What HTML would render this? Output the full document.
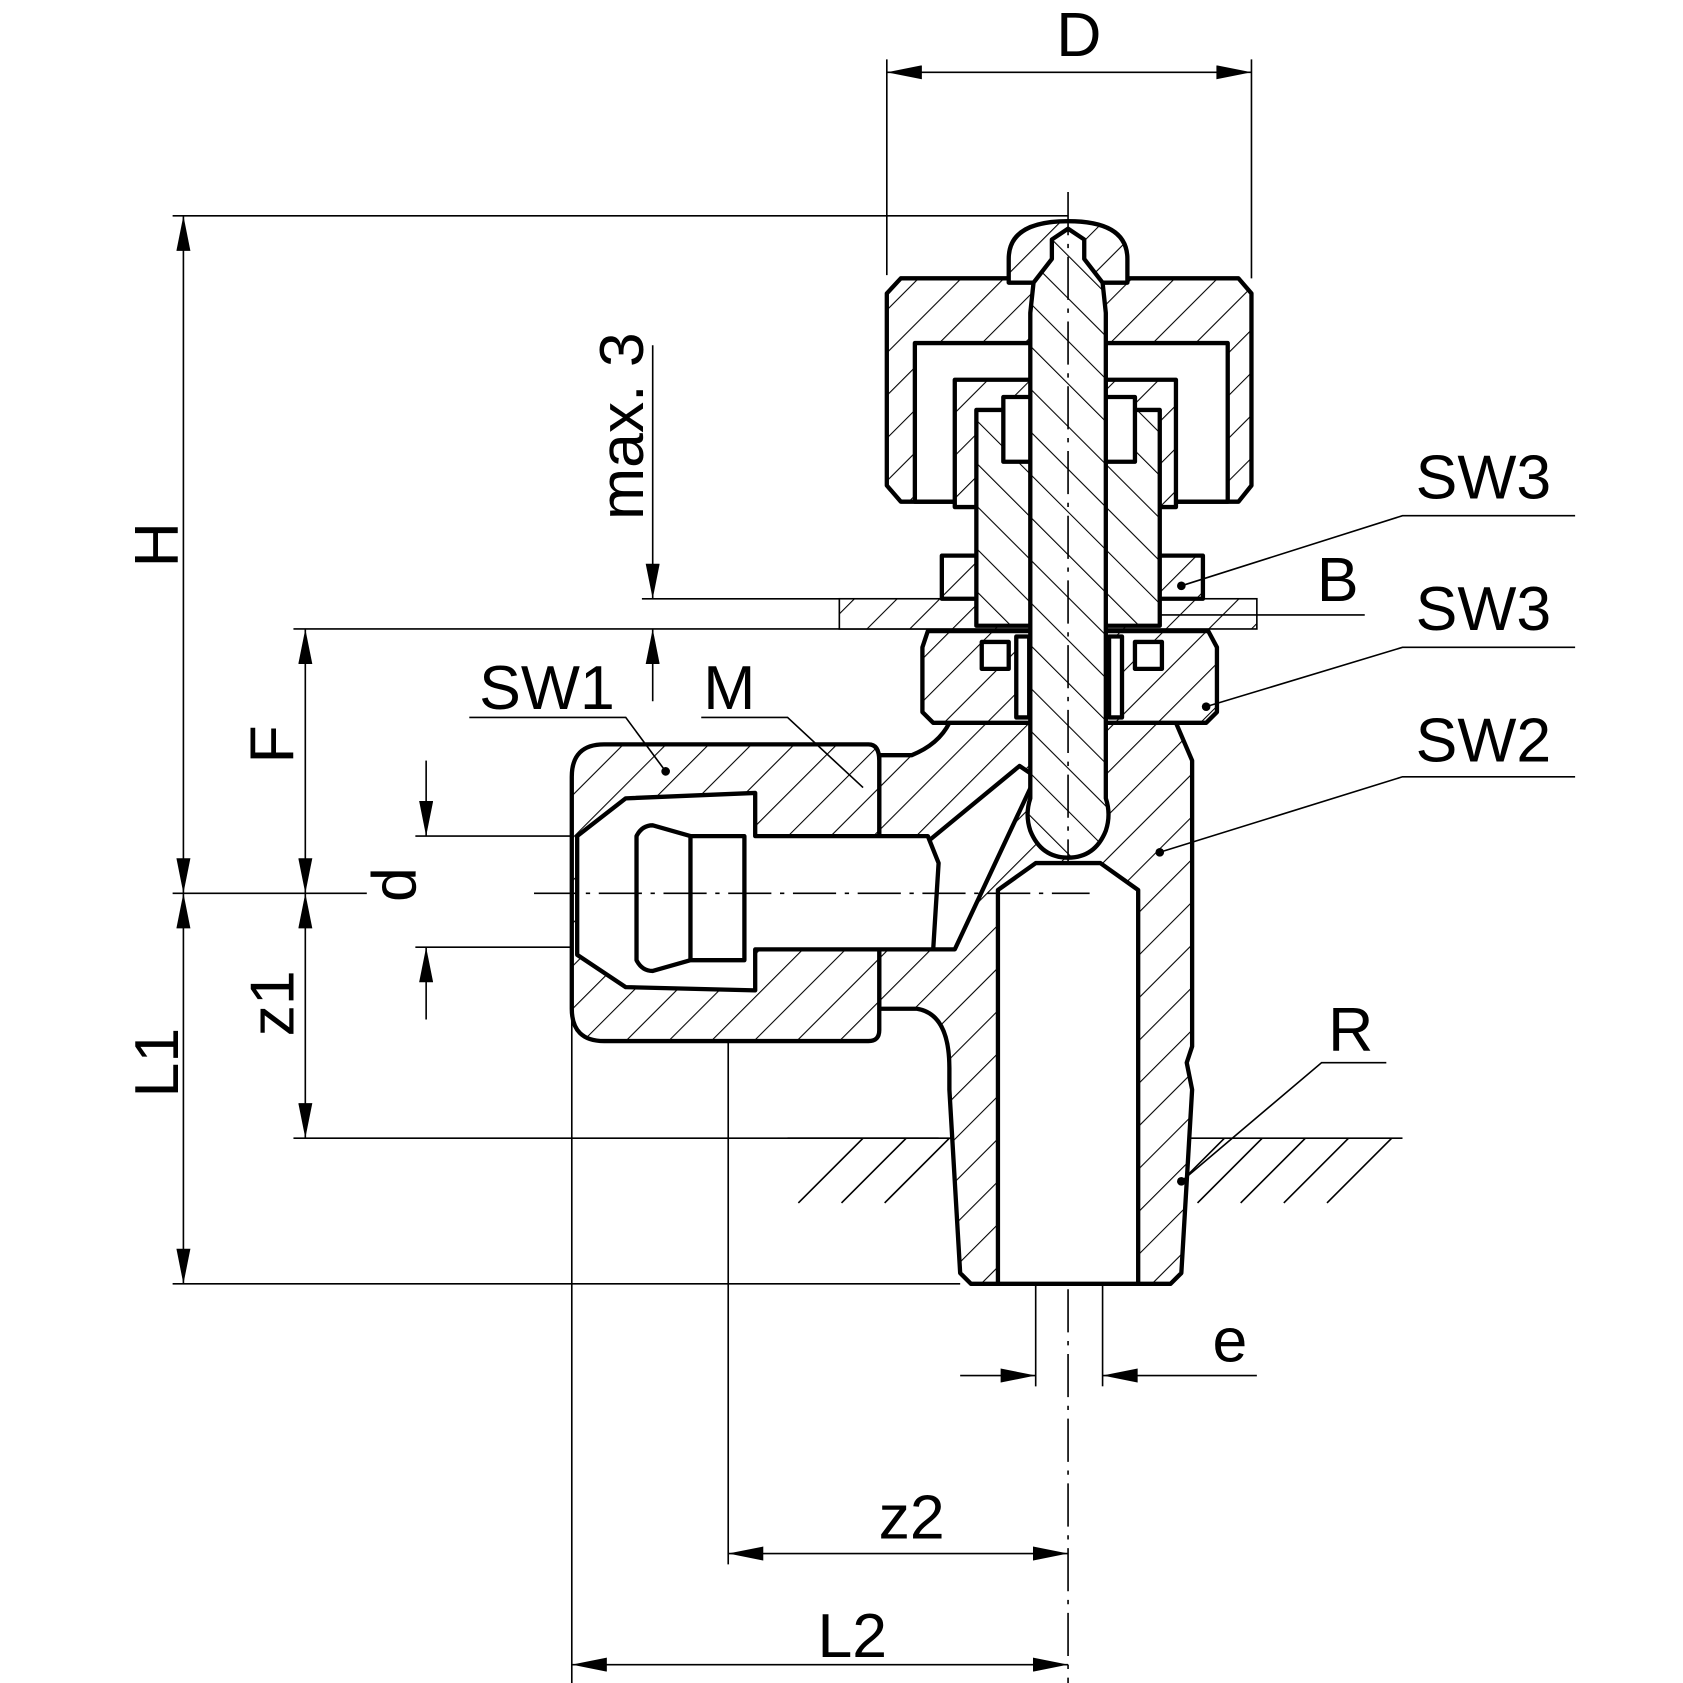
<!DOCTYPE html>
<html><head><meta charset="utf-8"><style>
html,body{margin:0;padding:0;background:#fff}
svg{display:block}
text{font-family:"Liberation Sans",sans-serif;fill:#000}
</style></head><body>
<svg width="1683" height="1683" viewBox="0 0 1560 1560" xmlns="http://www.w3.org/2000/svg">
<defs>
<pattern id="h" width="28" height="28" patternUnits="userSpaceOnUse" patternTransform="rotate(45)">
<rect width="28" height="28" fill="#fff"/><line x1="0" y1="0" x2="0" y2="28" stroke="#000" stroke-width="2"/></pattern>
<pattern id="h2" width="28" height="28" patternUnits="userSpaceOnUse" patternTransform="rotate(-45)">
<rect width="28" height="28" fill="#fff"/><line x1="0" y1="0" x2="0" y2="28" stroke="#000" stroke-width="2"/></pattern>
<marker id="a" viewBox="0 0 10 4" refX="10" refY="2" markerWidth="42" markerHeight="13" markerUnits="userSpaceOnUse" orient="auto-start-reverse"><path d="M0,0L10,2L0,4z"/></marker>
</defs>
<g stroke="#000" fill="none" stroke-width="1.5">
<line x1="822" y1="55" x2="822" y2="255"/><line x1="1160" y1="55" x2="1160" y2="258"/>
<line x1="160" y1="200" x2="990" y2="200"/>
<line x1="160" y1="828" x2="340" y2="828"/>
<line x1="272" y1="583" x2="870" y2="583"/>
<line x1="272" y1="1055" x2="870" y2="1055"/>
<line x1="160" y1="1190" x2="890" y2="1190"/>
<line x1="595" y1="555" x2="870" y2="555"/>
<line x1="385" y1="775" x2="530" y2="775"/><line x1="385" y1="878" x2="530" y2="878"/>
<line x1="530" y1="780" x2="530" y2="1560"/>
<line x1="675" y1="900" x2="675" y2="1450"/>
<line x1="990" y1="1195" x2="990" y2="1560" stroke-dasharray="40,8,4,8"/>
<line x1="960" y1="1190" x2="960" y2="1285"/><line x1="1022" y1="1190" x2="1022" y2="1285"/>
<line x1="822" y1="67" x2="1160" y2="67" marker-start="url(#a)" marker-end="url(#a)"/>
<line x1="170" y1="200" x2="170" y2="828" marker-start="url(#a)" marker-end="url(#a)"/>
<line x1="170" y1="828" x2="170" y2="1190" marker-start="url(#a)" marker-end="url(#a)"/>
<line x1="283" y1="583" x2="283" y2="828" marker-start="url(#a)" marker-end="url(#a)"/>
<line x1="283" y1="828" x2="283" y2="1055" marker-start="url(#a)" marker-end="url(#a)"/>
<line x1="605" y1="320" x2="605" y2="555" marker-end="url(#a)"/>
<line x1="605" y1="650" x2="605" y2="583" marker-end="url(#a)"/>
<line x1="395" y1="705" x2="395" y2="775" marker-end="url(#a)"/>
<line x1="395" y1="945" x2="395" y2="878" marker-end="url(#a)"/>
<line x1="675" y1="1440" x2="990" y2="1440" marker-start="url(#a)" marker-end="url(#a)"/>
<line x1="530" y1="1543" x2="990" y2="1543" marker-start="url(#a)" marker-end="url(#a)"/>
<line x1="890" y1="1275" x2="960" y2="1275" marker-end="url(#a)"/>
<line x1="1165" y1="1275" x2="1022" y2="1275" marker-end="url(#a)"/>
<line x1="730" y1="1055" x2="1300" y2="1055"/>
</g>
<g stroke="#000" stroke-width="1.5">
<path d="M740,1115L800,1055M780,1115L840,1055M820,1115L880,1055M1110,1115L1170,1055M1150,1115L1210,1055M1190,1115L1250,1055M1230,1115L1290,1055M1100,1090L1135,1055" fill="none"/>
</g>
<rect x="778" y="555" width="387" height="28" fill="url(#h)" stroke="#000" stroke-width="1.5"/>
<g stroke="#000" stroke-width="4" stroke-linejoin="round">
<path d="M880,670 L1090,670 L1105,705 L1105,970 L1100,985 L1105,1010 L1095,1180 L1085,1190 L900,1190 L890,1180 L880,1010 L880,990 Q880,940 850,935 L815,935 L815,700 L845,700 Q870,690 880,670Z" fill="url(#h)"/>
<path d="M925,1190 L925,825 L960,800 L1020,800 L1055,825 L1055,1190Z" fill="#fff"/>
<path d="M860,780 L945,710 L960,720 L885,880 L860,880Z" fill="#fff"/>
<path d="M560,690 L805,690 Q815,690 815,705 L815,955 Q815,965 805,965 L560,965 Q530,965 530,935 L530,720 Q530,690 560,690Z" fill="url(#h)"/>
<path d="M535,775 L580,740 L700,735 L700,775 L860,775 L870,800 L865,880 L700,880 L700,918 L580,915 L535,885Z" fill="#fff"/>
<path d="M590,775 Q595,765 605,765 L640,775 L690,775 L690,890 L640,890 L605,900 Q595,900 590,890Z" fill="#fff"/>
<line x1="640" y1="775" x2="640" y2="890"/>
<path d="M860,585 L1120,585 L1128,600 L1128,660 L1118,670 L865,670 L855,660 L855,600Z" fill="url(#h)"/>
<path d="M835,258 L1148,258 L1160,272 L1160,450 L1148,465 L835,465 L822,450 L822,272Z" fill="url(#h)"/>
<rect x="848" y="318" width="290" height="147" fill="#fff"/>
<rect x="885" y="352" width="205" height="118" fill="url(#h)"/>
<rect x="905" y="380" width="170" height="200" fill="url(#h2)"/>
<rect x="873" y="515" width="32" height="40" fill="url(#h)"/>
<rect x="1075" y="515" width="40" height="40" fill="url(#h)"/>
<rect x="930" y="368" width="30" height="60" fill="#fff"/>
<rect x="1022" y="368" width="30" height="60" fill="#fff"/>
<rect x="910" y="595" width="25" height="25" fill="#fff"/>
<rect x="1052" y="595" width="25" height="25" fill="#fff"/>
<path d="M935,262 L935,240 Q935,205 990,205 Q1045,205 1045,240 L1045,262Z" fill="url(#h)"/>
<path d="M975,222 L990,212 L1005,222 L1005,240 L1022,262 L1025,290 L1025,740 Q1030,755 1025,770 Q1015,795 990,795 Q965,795 955,770 Q950,755 955,740 L955,290 L958,262 L975,240Z" fill="url(#h2)"/>
<rect x="942" y="590" width="12" height="75" fill="#fff"/><rect x="1028" y="590" width="12" height="75" fill="#fff"/>
</g>
<g stroke="#000" stroke-width="1.5" stroke-dasharray="40,8,4,8" fill="none">
<line x1="990" y1="178" x2="990" y2="800"/>
<line x1="495" y1="828" x2="1010" y2="828"/>
</g>
<g stroke="#000" stroke-width="1.5" fill="none">
<path d="M1460,478 L1300,478 L1095,543"/>
<path d="M1460,600 L1300,600 L1118,655"/>
<path d="M1460,720 L1300,720 L1075,790"/>
<path d="M1285,985 L1225,985 L1095,1095"/>
<path d="M435,665 L580,665 L617,715"/>
<path d="M650,665 L730,665 L800,730"/>
<line x1="1075" y1="570" x2="1265" y2="570"/>
</g>
<g fill="#000"><circle cx="1095" cy="543" r="4"/><circle cx="1118" cy="655" r="4"/><circle cx="1075" cy="790" r="4"/><circle cx="1095" cy="1095" r="4"/><circle cx="617" cy="715" r="4"/></g>
<g font-size="58">
<text x="1000" y="52" text-anchor="middle">D</text>
<text x="1375" y="462" text-anchor="middle">SW3</text>
<text x="1240" y="557" text-anchor="middle">B</text>
<text x="1375" y="584" text-anchor="middle">SW3</text>
<text x="1375" y="706" text-anchor="middle">SW2</text>
<text x="1252" y="974" text-anchor="middle">R</text>
<text x="1140" y="1262" text-anchor="middle">e</text>
<text x="845" y="1426" text-anchor="middle">z2</text>
<text x="790" y="1536" text-anchor="middle">L2</text>
<text x="507" y="657" text-anchor="middle">SW1</text>
<text x="676" y="657" text-anchor="middle">M</text>
<text transform="translate(165,505) rotate(-90)" text-anchor="middle">H</text>
<text transform="translate(165,985) rotate(-90)" text-anchor="middle">L1</text>
<text transform="translate(272,690) rotate(-90)" text-anchor="middle">F</text>
<text transform="translate(272,930) rotate(-90)" text-anchor="middle">z1</text>
<text transform="translate(385,820) rotate(-90)" text-anchor="middle">d</text>
<text transform="translate(596,395) rotate(-90)" text-anchor="middle">max. 3</text>
</g>
</svg>
</body></html>
